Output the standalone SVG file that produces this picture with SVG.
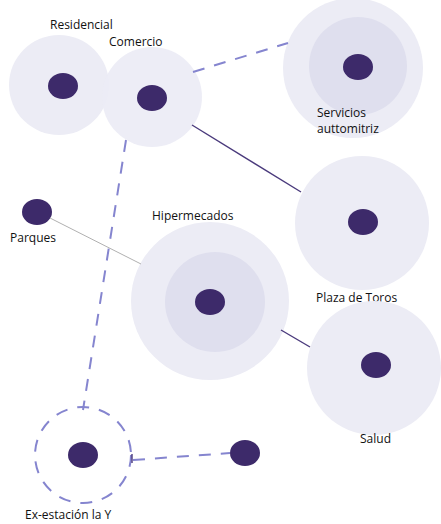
<svg xmlns="http://www.w3.org/2000/svg" width="441" height="524" viewBox="0 0 441 524">
<style>
.halo{fill:#ececf5}
.inner{fill:#dfdfee}
.dot{fill:#3d2a6a}
.lbl{font-family:"Open Sans","Noto Sans",sans-serif;font-size:12px;fill:#111}
.dash{stroke:#8585cf;stroke-width:2;stroke-dasharray:12 10;fill:none}
.solid{stroke:#4a3a7c;stroke-width:1.4;fill:none}
.thin{stroke:#b0b0b0;stroke-width:1;fill:none}
</style>
<rect width="441" height="524" fill="#fff"/>
<g id="residencial">
<circle class="halo" cx="59" cy="85" r="50"/>
<ellipse class="dot" cx="63" cy="86" rx="15" ry="13"/>
<text class="lbl" x="50" y="29">Residencial</text>
</g>
<g id="comercio">
<circle class="halo" cx="152" cy="97" r="50" opacity="0.92"/>
<ellipse class="dot" cx="152" cy="98" rx="15" ry="13"/>
<text class="lbl" x="109" y="46">Comercio</text>
</g>
<g id="servicios">
<circle class="halo" cx="353" cy="68" r="70"/>
<circle class="inner" cx="358" cy="66" r="49"/>
<ellipse class="dot" cx="358" cy="67" rx="15" ry="13"/>
<text class="lbl" x="317" y="117" font-size="11.5">Servicios</text>
<text class="lbl" x="317" y="133" font-size="11.5">auttomitriz</text>
</g>
<g id="plaza">
<circle class="halo" cx="362" cy="223" r="67"/>
<ellipse class="dot" cx="363" cy="222" rx="15" ry="13"/>
<text class="lbl" x="316" y="302">Plaza de Toros</text>
</g>
<g id="salud">
<circle class="halo" cx="374" cy="368" r="67"/>
<ellipse class="dot" cx="376" cy="365" rx="15" ry="13"/>
<text class="lbl" x="360" y="443">Salud</text>
</g>
<g id="hipermecados">
<circle class="halo" cx="210" cy="301" r="79"/>
<circle class="inner" cx="215" cy="302" r="50"/>
<ellipse class="dot" cx="210" cy="302" rx="15" ry="13"/>
<text class="lbl" x="152" y="220">Hipermecados</text>
</g>
<g id="parques">
<ellipse class="dot" cx="37" cy="212" rx="15" ry="13"/>
<text class="lbl" x="10" y="242">Parques</text>
</g>
<g id="exestacion">
<circle class="dash" cx="83" cy="455" r="48" stroke-dasharray="13 9"/>
<ellipse class="dot" cx="83" cy="455" rx="15" ry="13"/>
<text class="lbl" x="25" y="519">Ex-estación la Y</text>
</g>
<g id="punto">
<ellipse class="dot" cx="245" cy="453" rx="15" ry="13"/>
</g>
<g id="connectors">
<line class="dash" x1="193" y1="72" x2="288" y2="43"/>
<line class="solid" x1="192" y1="125" x2="301" y2="192"/>
<line class="thin" x1="50" y1="218" x2="141" y2="264"/>
<line class="solid" x1="281" y1="330" x2="310" y2="347"/>
<line class="dash" x1="126" y1="140" x2="83" y2="410"/>
<line class="dash" x1="133" y1="460" x2="230" y2="453"/>
<line class="solid" x1="132" y1="454" x2="132" y2="463" stroke="#8585cf"/>
</g>
</svg>
